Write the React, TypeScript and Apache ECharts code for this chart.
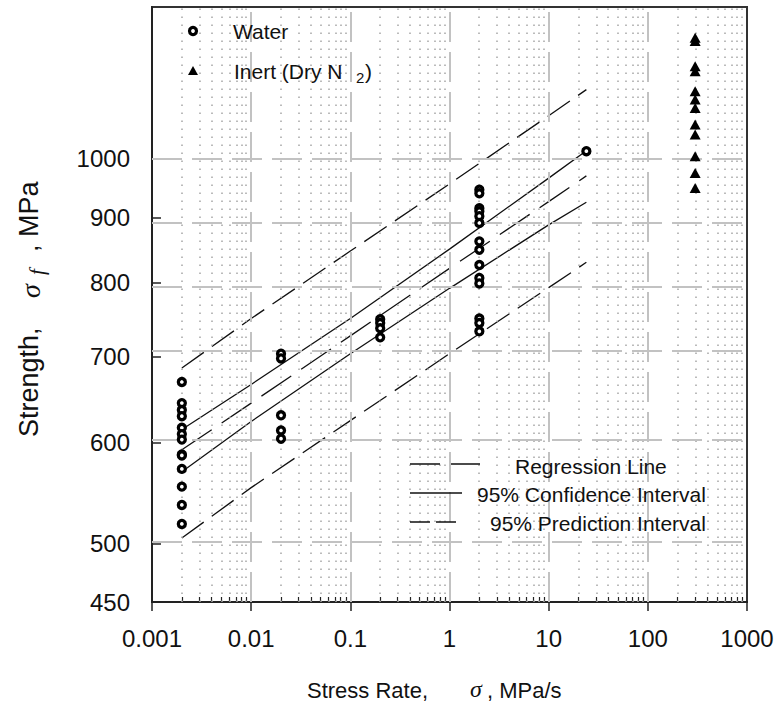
import React, { useEffect, useRef } from "react";
import * as echarts from "echarts";

// ---- axis structure ----
const xMin = 0.001;
const xMax = 1000;
const yMin = 450;
const yMax = 1315;
const yTickValues = [450, 500, 600, 700, 800, 900, 1000];
const yGridValues = [500, 600, 700, 800, 900, 1000];
const xMajorGrid = [0.01, 0.1, 1, 10, 100];
const decadeStarts = [0.001, 0.01, 0.1, 1, 10, 100];
const minorMultipliers = [2, 3, 4, 5, 6, 7, 8, 9];

// ---- data ----
const waterRates = [0.002, 0.02, 0.2, 2, 24];
const waterAt0002 = [669, 644, 636, 629, 616, 609, 603, 587, 586, 572, 554, 536, 518];
const waterAt002 = [704, 698, 630, 613, 604];
const waterAt02 = [749, 744, 737, 725];
const waterAt2 = [946, 940, 915, 910, 902, 891, 862, 849, 826, 807, 799, 750, 744, 733];
const waterAt24 = [1014];
const waterGroups = [waterAt0002, waterAt002, waterAt02, waterAt2, waterAt24];

const inertRate = 300;
const inertStrength = [1244, 1237, 1182, 1171, 1130, 1113, 1096, 1064, 1045, 1005, 975, 949];

const fitRates = [0.002, 0.01, 0.1, 1, 10, 24];
const regression = [592, 644, 727, 821, 926, 970];
const upperCI = [614, 666, 750, 850, 966, 1015];
const lowerCI = [569, 623, 704, 792, 888, 925];
const upperPI = [686, 750, 847, 956, 1081, 1133];
const lowerPI = [505, 553, 624, 704, 793, 830];

const FONT = "'Liberation Sans', Arial, Helvetica, sans-serif";
const SERIF = "'Liberation Serif', 'DejaVu Serif', serif";
const L = Math.log10;

const toPts = (xs: number[], ys: number[]) => xs.map((x, i) => [L(x), L(ys[i])]);

export default function App() {
  const ref = useRef<HTMLDivElement>(null);
  useEffect(() => {
    if (!ref.current) return;
    const chart = echarts.init(ref.current, undefined, { renderer: "svg" });

    const minorX: number[] = [];
    decadeStarts.forEach((d) => minorMultipliers.forEach((m) => minorX.push(d * m)));

    const waterPts: number[][] = [];
    waterGroups.forEach((g, i) => g.forEach((v) => waterPts.push([L(waterRates[i]), L(v)])));
    const inertPts = inertStrength.map((v) => [L(inertRate), L(v)]);

    const lineSeries = (name: string, ys: number[], type: any) => ({
      name,
      type: "line",
      data: toPts(fitRates, ys),
      symbol: "none",
      showSymbol: false,
      silent: true,
      z: 3,
      lineStyle: { color: "#111", width: 1.3, type },
    });

    const txt = (text: string, x: number, y: number, size: number, extra: any = {}, family = FONT) => ({
      type: "text",
      x,
      y,
      z: 10,
      ...extra,
      style: {
        text,
        font: `${extra.italic ? "italic " : ""}${size}px ${family}`,
        fill: "#111",
        verticalAlign: "middle",
        align: "left",
      },
    });

    const option: any = {
      animation: false,
      backgroundColor: "#ffffff",
      grid: {
        left: 152,
        right: 27,
        top: 7,
        bottom: 117,
        show: true,
        borderColor: "#333",
        borderWidth: 2,
        containLabel: false,
        outerBoundsMode: "none",
      },
      xAxis: [
        {
          type: "value",
          min: L(xMin),
          max: L(xMax),
          interval: 1,
          position: "bottom",
          axisLine: { show: true, onZero: false, lineStyle: { color: "#222", width: 2 } },
          axisTick: { show: true, inside: false, length: 9, lineStyle: { color: "#222", width: 1.5 } },
          axisLabel: {
            margin: 24,
            fontSize: 24,
            color: "#111",
            fontFamily: FONT,
            formatter: (v: number) => {
              const p = Math.round(v);
              return p < 0 ? Math.pow(10, p).toFixed(-p) : String(Math.pow(10, p));
            },
          },
          splitLine: { show: false },
        },
        {
          type: "value",
          min: L(xMin),
          max: L(xMax),
          position: "bottom",
          axisLine: { show: false, onZero: false },
          axisLabel: { show: false },
          axisTick: {
            show: true,
            inside: true,
            length: 5,
            customValues: minorX.map(L),
            lineStyle: { color: "#222", width: 1.2 },
          },
          splitLine: { show: false },
        },
      ],
      yAxis: {
        type: "value",
        min: L(yMin),
        max: L(yMax),
        position: "left",
        axisLine: { show: true, onZero: false, lineStyle: { color: "#222", width: 2 } },
        axisTick: {
          show: true,
          inside: true,
          length: 9,
          customValues: yTickValues.map(L),
          lineStyle: { color: "#222", width: 1.5 },
        },
        axisLabel: {
          customValues: yTickValues.map(L),
          margin: 22,
          fontSize: 24,
          color: "#111",
          fontFamily: FONT,
          formatter: (v: number) => String(Math.round(Math.pow(10, v))),
        },
        splitLine: { show: false },
      },
      series: [
        {
          name: "minorGrid",
          type: "line",
          data: [],
          silent: true,
          z: 1,
          markLine: {
            silent: true,
            symbol: ["none", "none"],
            label: { show: false },
            animation: false,
            lineStyle: { type: [1.5, 6.5], color: "#a5a5a5", width: 1.5 },
            data: minorX.map((v) => ({ xAxis: L(v) })),
          },
        },
        {
          name: "majorGrid",
          type: "line",
          data: [],
          silent: true,
          z: 1,
          markLine: {
            silent: true,
            symbol: ["none", "none"],
            label: { show: false },
            animation: false,
            lineStyle: { type: [30, 10], color: "#c2c2c2", width: 2 },
            data: [
              ...xMajorGrid.map((v) => ({ xAxis: L(v) })),
              ...yGridValues.map((v) => ({ yAxis: L(v) })),
            ],
          },
        },
        lineSeries("Regression Line", regression, [36, 12]),
        lineSeries("95% Confidence Interval (upper)", upperCI, "solid"),
        lineSeries("95% Confidence Interval (lower)", lowerCI, "solid"),
        lineSeries("95% Prediction Interval (upper)", upperPI, [27, 10]),
        lineSeries("95% Prediction Interval (lower)", lowerPI, [27, 10]),
        {
          name: "Water",
          type: "scatter",
          data: waterPts,
          symbol: "circle",
          symbolSize: 7,
          z: 5,
          itemStyle: { color: "#ffffff", borderColor: "#000", borderWidth: 3.3, opacity: 1 },
        },
        {
          name: "Inert (Dry N2)",
          type: "scatter",
          data: inertPts,
          symbol: "triangle",
          symbolSize: [11, 10],
          z: 5,
          itemStyle: { color: "#000", opacity: 1 },
        },
      ],
      graphic: [
        {
          type: "circle",
          shape: { cx: 193, cy: 31, r: 3.5 },
          style: { fill: "#fff", stroke: "#000", lineWidth: 3.2 },
          z: 10,
        },
        {
          type: "polygon",
          shape: { points: [[188, 75], [198, 75], [193, 66]] },
          style: { fill: "#000" },
          z: 10,
        },
        txt("Water", 233, 31, 21),
        txt("Inert (Dry N", 234, 71, 21),
        txt("2", 356, 77, 15),
        txt(")", 365, 71, 21),
        {
          type: "line",
          shape: { x1: 410, y1: 464, x2: 480, y2: 464 },
          style: { stroke: "#111", lineWidth: 1.3, lineDash: [30, 11] },
          z: 10,
        },
        {
          type: "line",
          shape: { x1: 410, y1: 493, x2: 462, y2: 493 },
          style: { stroke: "#111", lineWidth: 1.3 },
          z: 10,
        },
        {
          type: "line",
          shape: { x1: 410, y1: 522, x2: 462, y2: 522 },
          style: { stroke: "#111", lineWidth: 1.3, lineDash: [20, 6] },
          z: 10,
        },
        txt("Regression Line", 515, 466, 21),
        txt("95% Confidence Interval", 477, 494, 21),
        txt("95% Prediction Interval", 490, 523, 21),
        // x-axis title
        txt("Stress Rate,", 307, 690, 22),
        txt("σ", 470, 689, 24, { italic: true }, SERIF),
        txt(", MPa/s", 487, 690, 22),
        // y-axis title (rotated, reading upward)
        txt("Strength,", 29, 437, 27, { rotation: Math.PI / 2 }),
        txt("σ", 30, 298, 28, { rotation: Math.PI / 2, italic: true }, SERIF),
        txt("f", 37, 275, 21, { rotation: Math.PI / 2, italic: true }, SERIF),
        txt(", MPa", 29, 252, 27, { rotation: Math.PI / 2 }),
      ],
    };

    chart.setOption(option);
    return () => chart.dispose();
  }, []);

  return (
    <div
      ref={ref}
      style={{ position: "fixed", left: 0, top: 0, width: 774, height: 719, background: "#fff" }}
    />
  );
}
